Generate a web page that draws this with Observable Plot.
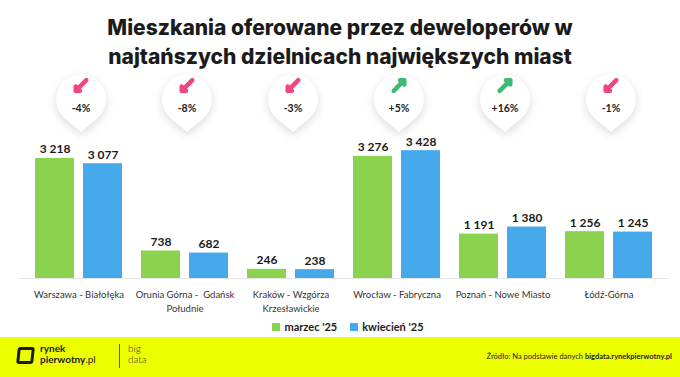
<!DOCTYPE html>
<html><head><meta charset="utf-8">
<script src="https://cdn.jsdelivr.net/npm/d3@7"></script>
<script src="https://cdn.jsdelivr.net/npm/@observablehq/plot@0.6"></script>
<style>
body{margin:0;background:#fff;width:680px;height:377px;overflow:hidden;font-family:Lato,sans-serif}
#title{height:70px;box-sizing:border-box;padding-top:13px;text-align:center;font-family:Inter,sans-serif;font-weight:800;font-size:21px;line-height:29px;color:#1b1b1b;letter-spacing:0px}
#chart{height:245px}
#chart svg{overflow:visible}
#legend{height:22px;display:flex;justify-content:center;align-items:center;gap:13px;padding-left:16px;font-weight:700;font-size:11px;color:#1b1b1b}
.sw{display:inline-block;width:8px;height:8px;margin-right:4px}
#footer{height:40px;background:#ecff00;position:relative;color:#1b1b1b}
g[aria-label="dot"] path{filter:drop-shadow(0 3px 4px rgba(0,0,0,0.14))}
</style></head>
<body>
<div id="title">Mieszkania oferowane przez deweloperów w<br>najtańszych dzielnicach największych miast</div>
<div id="chart"></div>
<div id="legend"></div>
<div id="footer">
  <div style="position:absolute;left:17px;top:10px;width:11px;height:11px;border:3px solid #1b1b1b;border-radius:3px;transform:skewX(-6deg)"></div>
  <div style="position:absolute;left:40px;top:6px;font-weight:700;font-size:10px;line-height:11px;">rynek<br>pierwotny<span style="font-weight:400">.pl</span></div>
  <div style="position:absolute;left:119px;top:7px;width:1px;height:24px;background:#555"></div>
  <div style="position:absolute;left:128px;top:6px;font-weight:300;font-size:10px;line-height:11px;color:#333">big<br>data</div>
  <div style="position:absolute;right:8px;top:15px;font-size:7.5px;color:#222">Źródło: Na podstawie danych <b>bigdata.rynekpierwotny.pl</b></div>
</div>
<script>
const cities = ["Warszawa - Białołęka", "Orunia Górna - Gdańsk Południe", "Kraków - Wzgórza Krzesławickie", "Wrocław - Fabryczna", "Poznań - Nowe Miasto", "Łódź-Górna"];
const cityLabels = ["Warszawa - Białołęka", "Orunia Górna -  Gdańsk\nPołudnie", "Kraków - Wzgórza\nKrzesławickie", "Wrocław - Fabryczna", "Poznań - Nowe Miasto", "Łódź-Górna"];
const months = ["marzec '25", "kwiecień '25"];
const march = [3218, 738, 246, 3276, 1191, 1256];
const april = [3077, 682, 238, 3428, 1380, 1245];
const changes = ["-4%", "-8%", "-3%", "+5%", "+16%", "-1%"];
const colors = ["#8bd34f", "#46a9ec"];

const fmt = d3.formatLocale({thousands: "\u00a0", grouping: [3], decimal: ","}).format(",d");
const rowsM = cities.map((c, i) => ({city: c, month: months[0], value: march[i]}));
const rowsA = cities.map((c, i) => ({city: c, month: months[1], value: april[i]}));
const badges = cities.map((c, i) => ({city: c, change: changes[i], up: changes[i].startsWith("+")}));

const teardrop = {
  draw(ctx, size) {
    const r = Math.sqrt(size / Math.PI), d = 1.3 * r, t = Math.acos(r / d);
    ctx.moveTo(0, d);
    ctx.lineTo(r * Math.sin(t), r * Math.cos(t));
    ctx.arc(0, 0, r, Math.PI / 2 - t, Math.PI / 2 + t, true);
    ctx.closePath();
  }
};

const chart = Plot.plot({
  width: 680, height: 245,
  marginTop: 75, marginBottom: 37, marginLeft: 19, marginRight: 12,
  x: {domain: cities, padding: 0.1, label: null},
  y: {domain: [0, 3566], axis: null},
  style: {fontFamily: "Lato, sans-serif", color: "#333", background: "transparent"},
  marks: [
    Plot.ruleY([0], {stroke: "#e4e4e4"}),
    Plot.barY(rowsM, {x: "city", y: "value", fill: colors[0], insetLeft: 4, insetRight: 52}),
    Plot.barY(rowsA, {x: "city", y: "value", fill: colors[1], insetLeft: 52, insetRight: 4}),
    Plot.text(rowsM, {x: "city", y: "value", text: d => fmt(d.value), dx: -24, dy: -5, lineAnchor: "bottom", fontSize: 12, fontWeight: 700, fill: "#1b1b1b"}),
    Plot.text(rowsA, {x: "city", y: "value", text: d => fmt(d.value), dx: 24, dy: -5, lineAnchor: "bottom", fontSize: 12, fontWeight: 700, fill: "#1b1b1b"}),
    Plot.axisX({tickSize: 0, tickPadding: 10, fontSize: 9.5, lineHeight: 1.45, tickFormat: d => cityLabels[cities.indexOf(d)], label: null}),
    Plot.dot(badges, {x: "city", frameAnchor: "top", dy: -46, dx: 2, r: 25, symbol: teardrop, fill: "white", stroke: "none"}),
    Plot.vector(badges.filter(d => !d.up), {x: "city", frameAnchor: "top", dy: -60, dx: 2, length: 15, rotate: 225, anchor: "middle", stroke: "#f0467f", strokeWidth: 4.5}),
    Plot.vector(badges.filter(d => d.up), {x: "city", frameAnchor: "top", dy: -60, dx: 2, length: 15, rotate: 45, anchor: "middle", stroke: "#3dbb74", strokeWidth: 4.5}),
    Plot.text(badges, {x: "city", frameAnchor: "top", dy: -41, dx: 2, text: "change", fontSize: 10.5, fontWeight: 700, fill: "#222"})
  ]
});
document.getElementById("chart").appendChild(chart);

const legend = document.getElementById("legend");
months.forEach((m, i) => {
  const s = document.createElement("span");
  s.innerHTML = `<span class="sw" style="background:${colors[i]}"></span>${m}`;
  legend.appendChild(s);
});
</script>
</body></html>
